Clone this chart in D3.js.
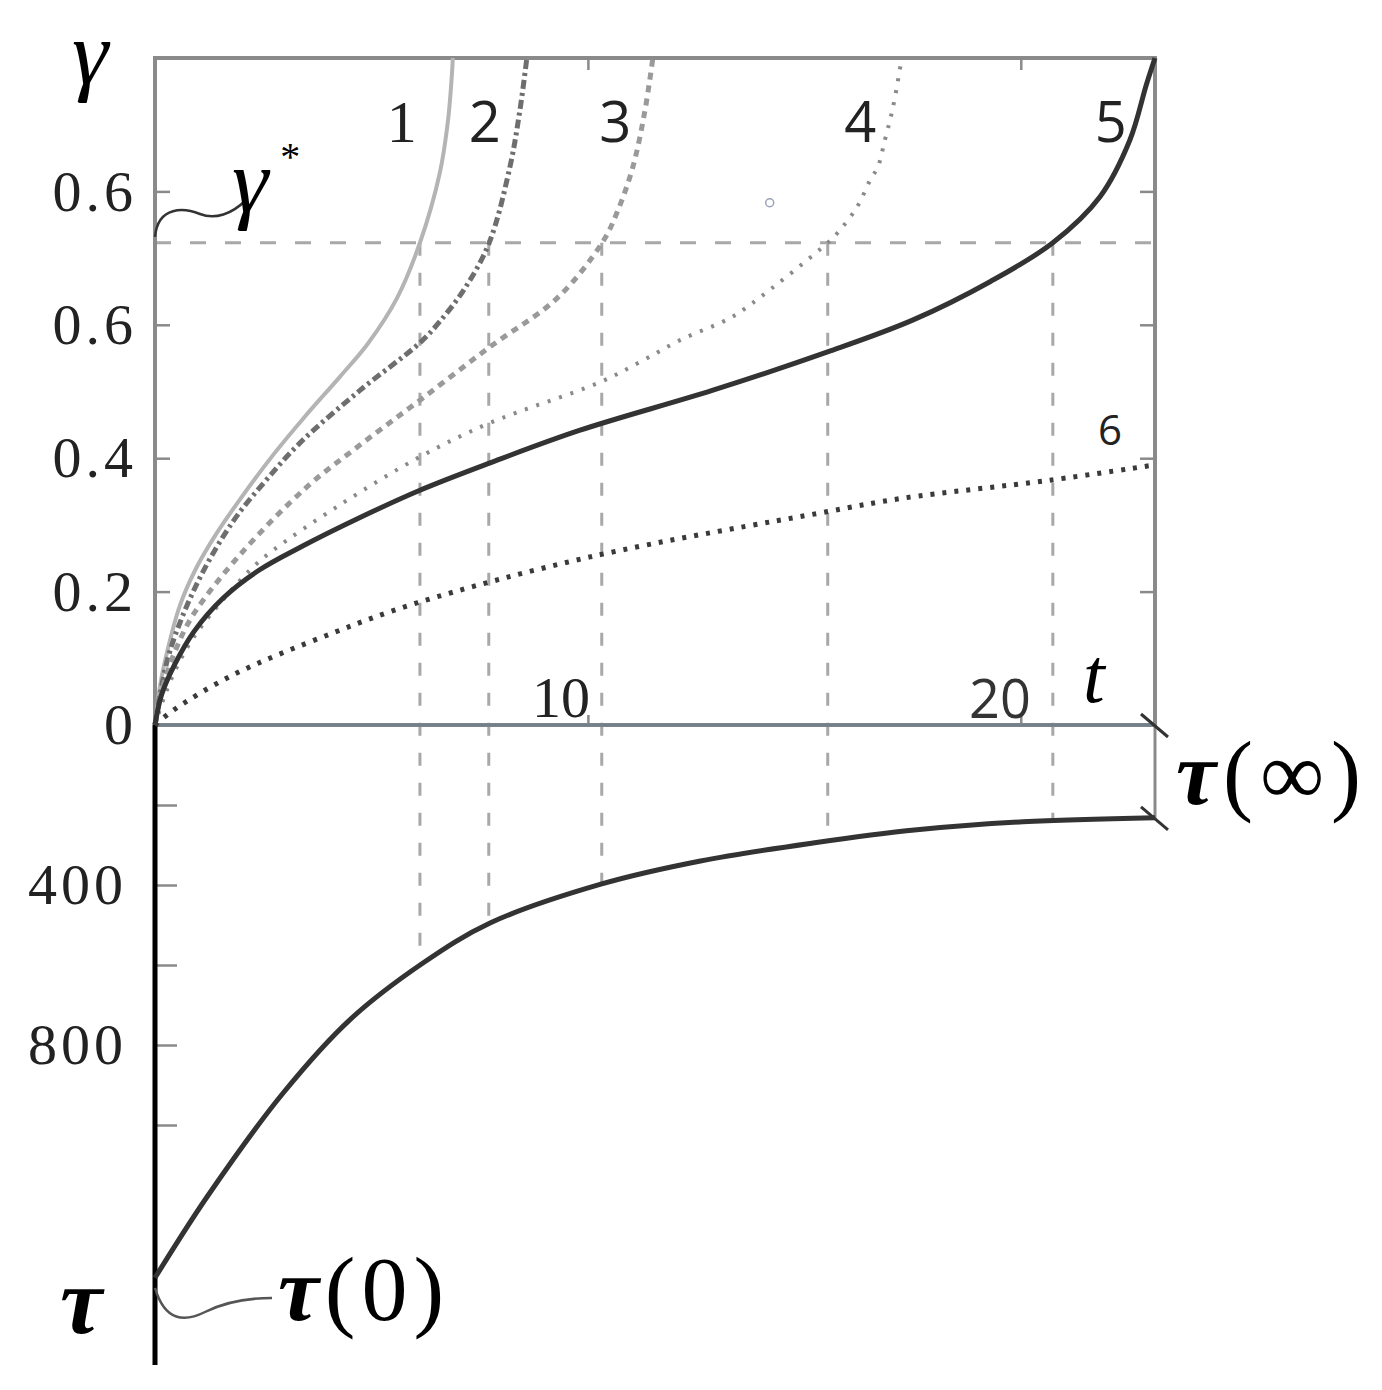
<!DOCTYPE html>
<html>
<head>
<meta charset="utf-8">
<script src="https://cdn.jsdelivr.net/npm/d3@7"></script>
<style>
  body { margin: 0; background: #fff; }
  svg { display: block; }
</style>
</head>
<body>
<div class="canvas"></div>
<script>
// ---- data ----
// strain curves gamma(t), one per regime 1..6
const t1 = [0, 0.12, 0.3, 0.58, 0.95, 1.4, 1.96, 2.73, 3.47, 4.27, 4.92, 5.59, 6.12, 6.58, 6.77, 6.86, 6.88]
const g1 = [0, 0.06, 0.115, 0.18, 0.235, 0.285, 0.338, 0.405, 0.463, 0.522, 0.572, 0.64, 0.723, 0.828, 0.907, 0.977, 1.0]

const t2 = [0, 0.115, 0.35, 0.97, 1.8, 2.54, 3.35, 4.74, 6.12, 6.58, 7.16, 7.72, 8.2, 8.43, 8.59]
const g2 = [0, 0.045, 0.112, 0.212, 0.305, 0.365, 0.423, 0.502, 0.573, 0.605, 0.655, 0.723, 0.837, 0.922, 1.0]

const t3 = [0, 0.16, 0.46, 0.88, 1.96, 3.51, 4.74, 6.12, 7.74, 9.29, 10.33, 10.67, 11.04, 11.32, 11.5]
const g3 = [0, 0.052, 0.11, 0.165, 0.255, 0.357, 0.42, 0.487, 0.567, 0.64, 0.723, 0.768, 0.837, 0.922, 1.0]

const t4 = [0, 0.23, 0.58, 1.04, 2.19, 2.73, 4.27, 6.12, 7.74, 10.28, 11.2, 12.13, 13.28, 13.81, 15.54, 15.77, 16.22, 16.52, 16.7, 16.86, 16.98, 17.09, 17.25]
const g4 = [0, 0.045, 0.097, 0.145, 0.232, 0.262, 0.33, 0.402, 0.453, 0.514, 0.544, 0.577, 0.61, 0.633, 0.723, 0.738, 0.777, 0.817, 0.837, 0.877, 0.907, 0.94, 1.0]

const t5 = [0, 0.15, 0.45, 0.9, 1.57, 2.4, 3.4, 4.7, 6.12, 7.74, 9.82, 12.89, 15.52, 17.5, 19.3, 20.74, 21.83, 22.52, 22.9, 23.1]
const g5 = [0, 0.045, 0.09, 0.14, 0.19, 0.232, 0.268, 0.31, 0.352, 0.393, 0.442, 0.502, 0.559, 0.607, 0.665, 0.723, 0.792, 0.877, 0.96, 1.0]

const t6 = [0, 0.42, 1.8, 4.11, 6.05, 10.05, 15.54, 17.27, 20.67, 23.1]
const g6 = [0, 0.022, 0.075, 0.138, 0.183, 0.252, 0.32, 0.34, 0.367, 0.39]

// stress curve tau(t) in lower panel
const tTau = [0, 1.2, 2.96, 4.5, 6.19, 7.74, 10.3, 12.6, 15.2, 17.6, 20.05, 23.1]
const tau = [1382, 1180, 920, 737, 595, 495, 398, 340, 295, 262, 242, 232]

// critical strain and the times each curve reaches it
const gammaStar = 0.723
const tStar = [6.12, 7.71, 10.32, 15.54, 20.74]
const tauAtStar = [595, 497, 396, 294, 241]

const tauInf = 232
const tau0 = 1382

// axis ticks
const gammaTicks = [0, 0.2, 0.4, 0.6, 0.8]
const gammaTickLabels = ['0', '0.2', '0.4', '0.6', '0.6']
const tTicks = [10, 20]
const tTickLabels = ['10', '20']
const tauTicks = [200, 400, 600, 800, 1000]
const tauTickLabels = ['', '400', '', '800', '']

const curveNames = ['1', '2', '3', '4', '5', '6']
// where each curve number is written (t, gamma)
const nameT = [5.7, 7.62, 10.63, 16.29, 22.08, 22.06]
const nameG = [0.874, 0.874, 0.874, 0.874, 0.874, 0.42]

const SERIF = "'Liberation Serif', 'Times New Roman', Times, serif"
const SANS = "'Open Sans', 'Noto Sans', sans-serif"

// ---- drawing ----
const svg = d3.select('.canvas')
  .append('svg')
    .attr('width', 1382)
    .attr('height', 1390)

const x = d3.scaleLinear()
  .domain([0, 23.1])
  .range([155, 1155])

const y = d3.scaleLinear()
  .domain([0, 1])
  .range([725, 58])

const yTau = d3.scaleLinear()
  .domain([0, 1600])
  .range([725, 1365])

const series = [
  {t: t1, g: g1, stroke: '#b4b4b4', width: 4, dash: null},
  {t: t2, g: g2, stroke: '#6e6e6e', width: 5, dash: '9,4,3,4'},
  {t: t3, g: g3, stroke: '#9a9a9a', width: 5, dash: '7,6'},
  {t: t4, g: g4, stroke: '#8a8a8a', width: 4, dash: '3,9'},
  {t: t5, g: g5, stroke: '#333', width: 5, dash: null},
  {t: t6, g: g6, stroke: '#3a3a3a', width: 5, dash: '4,8'}
]

const line = d3.line()
  .x(d => x(d[0]))
  .y(d => y(d[1]))
  .curve(d3.curveCatmullRom.alpha(0.5))

// reference dashed lines (gamma* level and drops to tau curve)
svg.append('line')
  .attr('x1', x(0)).attr('x2', x(23.1))
  .attr('y1', y(gammaStar)).attr('y2', y(gammaStar))
  .attr('stroke', '#a8a8a8')
  .attr('stroke-width', 3)
  .attr('stroke-dasharray', '16,19')

svg.selectAll('.drop')
  .data(tStar)
  .enter()
  .append('line')
    .attr('class', 'drop')
    .attr('x1', d => x(d)).attr('x2', d => x(d))
    .attr('y1', y(gammaStar))
    .attr('y2', (d, i) => yTau(tauAtStar[i]))
    .attr('stroke', '#a8a8a8')
    .attr('stroke-width', 3)
    .attr('stroke-dasharray', '13,17')

// frame of upper panel
svg.append('rect')
  .attr('x', x(0)).attr('y', y(1))
  .attr('width', x(23.1) - x(0))
  .attr('height', y(0) - y(1))
  .attr('fill', 'none')
  .attr('stroke', '#8a8a8a')
  .attr('stroke-width', 4)

// axes ticks
const tickStyle = g => {
  g.select('.domain').remove()
  g.selectAll('line').attr('stroke', '#8a8a8a').attr('stroke-width', 2.5)
}

svg.append('g')
  .attr('transform', `translate(${x(0)},0)`)
  .call(d3.axisLeft(y).tickValues(gammaTicks.slice(1)).tickSizeInner(-15).tickSizeOuter(0).tickFormat(''))
  .call(tickStyle)

svg.append('g')
  .attr('transform', `translate(${x(23.1)},0)`)
  .call(d3.axisRight(y).tickValues(gammaTicks.slice(1)).tickSizeInner(-15).tickSizeOuter(0).tickFormat(''))
  .call(tickStyle)

svg.append('g')
  .attr('transform', `translate(0,${y(1)})`)
  .call(d3.axisTop(x).tickValues(tTicks).tickSizeInner(-12).tickSizeOuter(0).tickFormat(''))
  .call(tickStyle)

svg.append('g')
  .attr('transform', `translate(0,${y(0)})`)
  .call(d3.axisBottom(x).tickValues(tTicks).tickSizeInner(-10).tickSizeOuter(0).tickFormat(''))
  .call(tickStyle)

svg.append('g')
  .attr('transform', `translate(${x(0)},0)`)
  .call(d3.axisLeft(yTau).tickValues(tauTicks).tickSizeInner(-22).tickSizeOuter(0).tickFormat(''))
  .call(tickStyle)

// x axis line (t) and lower-panel right edge
svg.append('line')
  .attr('x1', x(0)).attr('x2', x(23.1))
  .attr('y1', y(0)).attr('y2', y(0))
  .attr('stroke', '#72808a')
  .attr('stroke-width', 3)

svg.append('line')
  .attr('x1', x(23.1)).attr('x2', x(23.1))
  .attr('y1', yTau(0)).attr('y2', yTau(tauInf))
  .attr('stroke', '#8a8a8a')
  .attr('stroke-width', 3)

// break marks at right
svg.selectAll('.brk')
  .data([0, tauInf])
  .enter()
  .append('line')
    .attr('class', 'brk')
    .attr('x1', x(23.1) - 14).attr('x2', x(23.1) + 13)
    .attr('y1', d => yTau(d) - 11).attr('y2', d => yTau(d) + 12)
    .attr('stroke', '#333')
    .attr('stroke-width', 3)

// tau axis (black)
svg.append('line')
  .attr('x1', x(0)).attr('x2', x(0))
  .attr('y1', yTau(0)).attr('y2', yTau(1600))
  .attr('stroke', '#000')
  .attr('stroke-width', 5)

// gamma curves
svg.selectAll('.curve')
  .data(series)
  .enter()
  .append('path')
    .attr('class', 'curve')
    .attr('d', s => line(s.t.map((v, i) => [v, s.g[i]])))
    .attr('fill', 'none')
    .attr('stroke', s => s.stroke)
    .attr('stroke-width', s => s.width)
    .attr('stroke-dasharray', s => s.dash)

// tau curve
const tauLine = d3.line()
  .x(d => x(d[0]))
  .y(d => yTau(d[1]))
  .curve(d3.curveCatmullRom.alpha(0.5))

svg.append('path')
  .attr('d', tauLine(tTau.map((v, i) => [v, tau[i]])))
  .attr('fill', 'none')
  .attr('stroke', '#333')
  .attr('stroke-width', 5)

// stray small circle in the scan
svg.append('circle')
  .attr('cx', x(14.2)).attr('cy', y(0.783))
  .attr('r', 4)
  .attr('fill', 'none')
  .attr('stroke', '#9aa0b8')
  .attr('stroke-width', 1.5)

// tick labels
svg.selectAll('.glab')
  .data(gammaTicks)
  .enter()
  .append('text')
    .attr('class', 'glab')
    .attr('font-family', SERIF)
    .attr('x', x(0) - 18)
    .attr('y', d => y(d))
    .attr('dy', '0.33em')
    .attr('text-anchor', 'end')
    .attr('font-size', 58)
    .attr('letter-spacing', 4)
    .attr('fill', '#222')
    .text((d, i) => gammaTickLabels[i])

svg.selectAll('.taulab')
  .data(tauTicks)
  .enter()
  .append('text')
    .attr('class', 'taulab')
    .attr('font-family', SERIF)
    .attr('x', x(0) - 28)
    .attr('y', d => yTau(d))
    .attr('dy', '0.33em')
    .attr('text-anchor', 'end')
    .attr('font-size', 58)
    .attr('letter-spacing', 4)
    .attr('fill', '#222')
    .text((d, i) => tauTickLabels[i])

svg.append('text')
  .attr('font-family', SERIF)
  .attr('x', x(tTicks[0]) + 2).attr('y', y(0) - 8)
  .attr('text-anchor', 'end')
  .attr('font-size', 58)
  .attr('fill', '#222')
  .text(tTickLabels[0])

svg.append('text')
  .attr('font-family', SANS)
  .attr('x', x(tTicks[1]) + 10).attr('y', y(0) - 7)
  .attr('text-anchor', 'end')
  .attr('font-size', 54)
  .attr('fill', '#333')
  .text(tTickLabels[1])

// curve numbers
svg.selectAll('.cname')
  .data(curveNames)
  .enter()
  .append('text')
    .attr('class', 'cname')
    .attr('font-family', (d, i) => i === 0 ? SERIF : SANS)
    .attr('x', (d, i) => x(nameT[i]))
    .attr('y', (d, i) => y(nameG[i]))
    .attr('text-anchor', 'middle')
    .attr('font-size', (d, i) => i === 5 ? 42 : (i === 0 ? 60 : 56))
    .attr('fill', '#222')
    .text(d => d)

// axis names
svg.append('text')
  .attr('font-family', SERIF)
  .attr('x', 72).attr('y', 84)
  .attr('font-style', 'italic')
  .attr('font-size', 92)
  .text('γ')

svg.append('text')
  .attr('font-family', SERIF)
  .attr('x', 1083).attr('y', 702)
  .attr('font-style', 'italic')
  .attr('font-size', 78)
  .text('t')

svg.append('text')
  .attr('font-family', SERIF)
  .attr('x', 60).attr('y', 1333)
  .attr('font-style', 'italic')
  .attr('font-weight', 'bold')
  .attr('font-size', 95)
  .text('τ')

// gamma* label with wavy leader
svg.append('path')
  .attr('d', `M${x(0)},${y(gammaStar) - 6} C158,205 185,208 200,214 S232,214 246,200`)
  .attr('fill', 'none')
  .attr('stroke', '#333')
  .attr('stroke-width', 2.5)

const gs = svg.append('text')
  .attr('font-family', SERIF)
  .attr('x', 232).attr('y', 212)
  .attr('font-style', 'italic')
  .attr('font-size', 92)
gs.append('tspan').text('γ')
gs.append('tspan').attr('font-size', 40).attr('dx', 12).attr('dy', -42).attr('font-style', 'normal').text('*')

// tau(inf) and tau(0)
const ti = svg.append('text')
  .attr('font-family', SERIF)
  .attr('x', 1176).attr('y', 804)
  .attr('font-size', 90)
  .attr('letter-spacing', 7)
ti.append('tspan').attr('font-style', 'italic').attr('font-weight', 'bold').text('τ')
ti.append('tspan').text('(∞)')

svg.append('path')
  .attr('d', `M${x(0)},${yTau(tau0) + 10} C165,1322 185,1322 205,1312 S245,1298 272,1298`)
  .attr('fill', 'none')
  .attr('stroke', '#555')
  .attr('stroke-width', 2.5)

const t0 = svg.append('text')
  .attr('font-family', SERIF)
  .attr('x', 278).attr('y', 1320)
  .attr('font-size', 92)
  .attr('letter-spacing', 6)
t0.append('tspan').attr('font-style', 'italic').attr('font-weight', 'bold').text('τ')
t0.append('tspan').text('(0)')
</script>
</body>
</html>
